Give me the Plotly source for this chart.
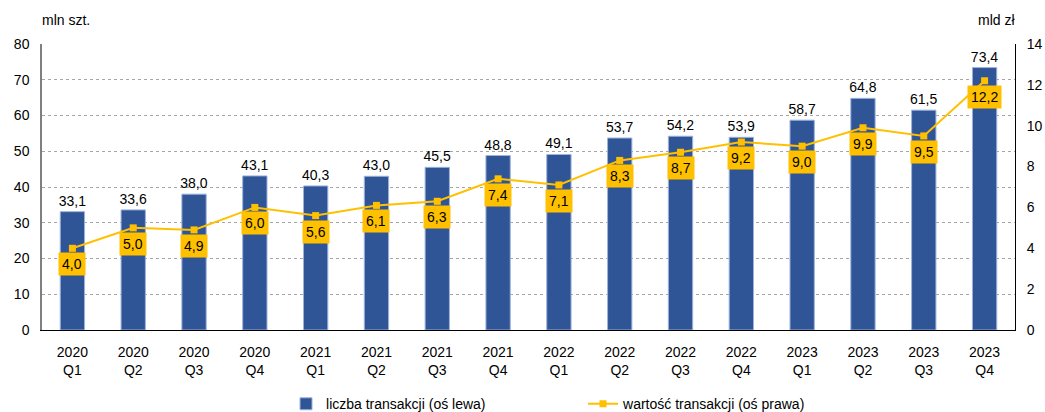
import plotly.graph_objects as go

years = ["2020"] * 4 + ["2021"] * 4 + ["2022"] * 4 + ["2023"] * 4
quarters = ["Q1", "Q2", "Q3", "Q4"] * 4
categories = [f"{y}<br>{q}" for y, q in zip(years, quarters)]
count_mln = [33.1, 33.6, 38.0, 43.1, 40.3, 43.0, 45.5, 48.8, 49.1, 53.7, 54.2, 53.9, 58.7, 64.8, 61.5, 73.4]
value_bln = [4.0, 5.0, 4.9, 6.0, 5.6, 6.1, 6.3, 7.4, 7.1, 8.3, 8.7, 9.2, 9.0, 9.9, 9.5, 12.2]

FONT = "Liberation Sans, Arial, sans-serif"
BLUE = "#2F5597"
YELLOW = "#FFC000"

fig = go.Figure()
fig.add_trace(go.Bar(
    x=categories, y=count_mln, name="liczba transakcji (oś lewa)",
    marker=dict(color=BLUE, line=dict(color="#9DB3DD", width=1)),
    width=0.4,
    text=[f"{v:.1f}".replace(".", ",") for v in count_mln],
    textposition="outside", cliponaxis=False, constraintext="none",
    textfont=dict(family=FONT, size=14, color="#000000"),
))
fig.add_trace(go.Scatter(
    x=categories, y=value_bln, name="wartość transakcji (oś prawa)", yaxis="y2",
    mode="lines+markers",
    line=dict(color=YELLOW, width=2),
    marker=dict(symbol="square", size=7, color=YELLOW),
))

annotations = []
for c, v in zip(categories, value_bln):
    annotations.append(dict(
        x=c, y=v, xref="x", yref="y2", yshift=-16,
        text=f"{v:.1f}".replace(".", ","), showarrow=False,
        bgcolor=YELLOW, borderpad=3,
        font=dict(family=FONT, size=14, color="#000000"),
    ))
annotations.append(dict(x=0, y=1, xref="paper", yref="paper", xanchor="left", yanchor="bottom",
                        xshift=-2, yshift=14, text="mln szt.", showarrow=False,
                        font=dict(family=FONT, size=14, color="#000000")))
annotations.append(dict(x=1, y=1, xref="paper", yref="paper", xanchor="right", yanchor="bottom",
                        xshift=2, yshift=14, text="mld zł", showarrow=False,
                        font=dict(family=FONT, size=14, color="#000000")))

fig.update_layout(
    width=1045, height=412,
    margin=dict(l=42, r=30, t=44, b=82, autoexpand=False),
    plot_bgcolor="white", paper_bgcolor="white",
    separators=", ",
    font=dict(family=FONT, size=14, color="#000000"),
    bargap=0.6,
    showlegend=True,
    legend=dict(orientation="h", x=0.2737, xanchor="left", xref="container",
                y=0.019, yanchor="middle", yref="container",
                entrywidth=252, entrywidthmode="pixels",
                font=dict(family=FONT, size=14), tracegroupgap=0),
    xaxis=dict(range=[-0.5, 15.5], autorange=False,
               showline=True, linecolor="#000000", linewidth=1, ticks="",
               tickfont=dict(family=FONT, size=14), showgrid=False,
               automargin=False, ticklabelstandoff=9),
    yaxis=dict(range=[0, 80], dtick=10, showline=True, linecolor="#808080", linewidth=1.5,
               showgrid=True, gridcolor="#A6A6A6", griddash="dot", gridwidth=1,
               zeroline=False, tickfont=dict(family=FONT, size=14), ticks="",
               automargin=False, ticklabelstandoff=8),
    yaxis2=dict(range=[0, 14], dtick=2, overlaying="y", side="right", showline=True,
                linecolor="#000000", linewidth=1, showgrid=False, zeroline=False,
                tickfont=dict(family=FONT, size=14), ticks="", ticklabelstandoff=8,
                automargin=False),
    annotations=annotations,
)

fig.write_html("out.html", config={"displayModeBar": False},
               post_script="document.body.style.margin='0';document.body.style.overflow='hidden';")
